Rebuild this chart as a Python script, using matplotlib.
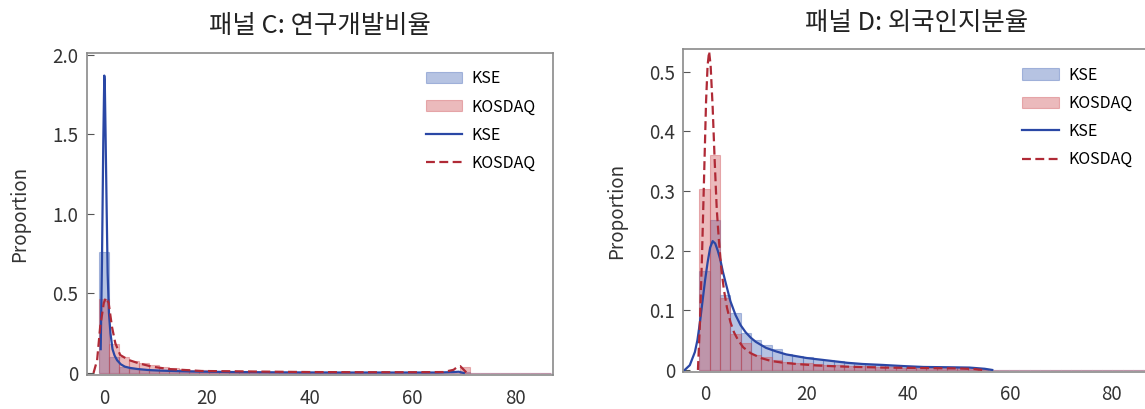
import matplotlib
matplotlib.use('Agg')
import matplotlib.pyplot as plt
import numpy as np

plt.rcParams['font.family'] = ['Noto Sans CJK KR', 'DejaVu Sans']
plt.rcParams['axes.unicode_minus'] = False

# ---- 패널 C: 연구개발비율 ----
c_bin_start, c_bin_width = -1.1, 1.955
c_kse_bars = [0.763, 0.10, 0.04, 0.025, 0.018, 0.014, 0.012, 0.010, 0.008, 0.007,
              0.006, 0.005, 0.005, 0.004, 0.004, 0.003, 0.003, 0.003, 0.002, 0.002,
              0.002, 0.002, 0.002, 0.002, 0.001, 0.001, 0.001, 0.001, 0.001, 0.001,
              0.001, 0.001, 0.001, 0.001, 0.001, 0.001, 0.006, 0, 0, 0,
              0, 0, 0, 0, 0]
c_kosdaq_bars = [0.463, 0.182, 0.103, 0.077, 0.061, 0.048, 0.040, 0.033, 0.027, 0.022,
                 0.018, 0.015, 0.013, 0.011, 0.010, 0.009, 0.008, 0.007, 0.006, 0.006,
                 0.005, 0.005, 0.005, 0.004, 0.004, 0.004, 0.004, 0.003, 0.003, 0.003,
                 0.003, 0.003, 0.003, 0.003, 0.003, 0.003, 0.040, 0, 0, 0,
                 0, 0, 0, 0, 0]
c_kse_x = [-0.7, -0.45, -0.2, 0.0, 0.1, 0.25, 0.45, 0.65, 0.9, 1.2, 1.6, 2.0, 2.5, 3.2,
           4.0, 5.0, 6.5, 8.5, 11, 14, 18, 25, 35, 45, 55, 65, 68, 69, 70]
c_kse_y = [0.15, 0.7, 1.45, 1.87, 1.82, 1.5, 1.05, 0.63, 0.38, 0.25, 0.15, 0.11, 0.08, 0.055,
           0.04, 0.032, 0.025, 0.019, 0.015, 0.012, 0.009, 0.006, 0.004, 0.003, 0.003, 0.003,
           0.006, 0.008, 0.0]
c_kosdaq_x = [-2.1, -1.4, -0.8, -0.1, 0.33, 0.85, 1.5, 2.15, 3.1, 4.75, 6.7, 9.3, 12.5,
              19, 25, 30, 40, 50, 60, 66, 68, 68.8, 69.3, 70, 70.6]
c_kosdaq_y = [0.0, 0.08, 0.29, 0.44, 0.474, 0.44, 0.29, 0.187, 0.113, 0.082, 0.061, 0.04,
              0.025, 0.0125, 0.011, 0.009, 0.006, 0.005, 0.005, 0.006, 0.02, 0.04, 0.043,
              0.02, 0.0]

# ---- 패널 D: 외국인지분율 ----
d_bin_start, d_bin_width = -1.1, 2.03
d_kse_bars = [0.166, 0.251, 0.125, 0.096, 0.062, 0.050, 0.042, 0.035, 0.027, 0.024,
              0.022, 0.018, 0.016, 0.015, 0.012, 0.0095, 0.008, 0.008, 0.007, 0.006,
              0.0055, 0.005, 0.005, 0.005, 0.0045, 0.004, 0.004, 0.002, 0, 0,
              0, 0, 0, 0, 0, 0, 0, 0, 0, 0,
              0, 0, 0, 0]
d_kosdaq_bars = [0.304, 0.360, 0.120, 0.061, 0.045, 0.025, 0.021, 0.017, 0.014, 0.012,
                 0.011, 0.010, 0.009, 0.008, 0.007, 0.006, 0.006, 0.005, 0.005, 0.004,
                 0.004, 0.004, 0.003, 0.003, 0.003, 0.003, 0.002, 0.001, 0, 0,
                 0, 0, 0, 0, 0, 0, 0, 0, 0, 0,
                 0, 0, 0, 0]
d_kse_x = [-4.0, -3.0, -2.0, -1.5, -1.0, -0.5, 0.0, 0.5, 1.0, 1.5, 2.0, 2.5, 3.0, 3.5, 4.0,
           5.0, 6.0, 7.0, 8.0, 9.0, 10, 12, 14, 16, 18, 20, 22, 25, 28, 31, 35, 39, 43, 48,
           52, 55, 56.5]
d_kse_y = [0.0, 0.008, 0.03, 0.05, 0.08, 0.115, 0.15, 0.18, 0.205, 0.216, 0.212, 0.2, 0.185,
           0.165, 0.148, 0.115, 0.092, 0.075, 0.063, 0.054, 0.047, 0.037, 0.031, 0.026, 0.023,
           0.02, 0.018, 0.015, 0.012, 0.010, 0.0084, 0.0065, 0.005, 0.0045, 0.004, 0.002, 0.0]
d_kosdaq_x = [-1.4, -1.0, -0.6, -0.2, 0.2, 0.5, 0.8, 1.1, 1.5, 1.9, 2.3, 2.7, 3.2, 3.7, 4.3,
              5.0, 5.7, 6.5, 7.5, 9, 11, 13, 15.5, 18, 22, 26, 30, 35, 40, 45, 50, 53, 54.5]
d_kosdaq_y = [0.0, 0.08, 0.19, 0.32, 0.45, 0.51, 0.534, 0.51, 0.44, 0.35, 0.27, 0.22, 0.17,
              0.135, 0.105, 0.08, 0.063, 0.05, 0.038, 0.028, 0.02, 0.015, 0.012, 0.01, 0.0075,
              0.006, 0.005, 0.004, 0.0035, 0.003, 0.0025, 0.0015, 0.0]

x_ticks = [0, 20, 40, 60, 80]
c_yticks = [0, 0.5, 1.0, 1.5, 2.0]
d_yticks = [0, 0.1, 0.2, 0.3, 0.4, 0.5]

KSE_FILL, KSE_LINE = '#3f62b4', '#2a47a5'
KOS_FILL, KOS_LINE = '#cc4a4f', '#b02a36'


def fmt(v, pos):
    return '0' if v == 0 else '%.1f' % v


def panel(ax, title, start, width, kse_bars, kos_bars, kse_x, kse_y, kos_x, kos_y,
          xlim, ylim, yticks):
    left = start + width * np.arange(len(kse_bars))
    b1 = ax.bar(left, kse_bars, width=width, align='edge', color=KSE_FILL, alpha=0.38,
                edgecolor=KSE_FILL, linewidth=0.8, label='KSE')
    b2 = ax.bar(left, kos_bars, width=width, align='edge', color=KOS_FILL, alpha=0.38,
                edgecolor=KOS_FILL, linewidth=0.8, label='KOSDAQ')
    l1, = ax.plot(kse_x, kse_y, color=KSE_LINE, lw=1.6, label='KSE')
    l2, = ax.plot(kos_x, kos_y, color=KOS_LINE, lw=1.6, ls=(0, (4, 2)), label='KOSDAQ')
    ax.set_xlim(*xlim)
    ax.set_ylim(*ylim)
    ax.set_xticks(x_ticks)
    ax.set_yticks(yticks)
    ax.yaxis.set_major_formatter(plt.FuncFormatter(fmt))
    ax.tick_params(axis='x', length=0, labelsize=13.5, colors='#333333', pad=9)
    ax.tick_params(axis='y', direction='in', length=5, width=0.8, color='#555555',
                   labelsize=13.5, labelcolor='#333333', pad=6)
    for s in ax.spines.values():
        s.set_color('#8a8a8a')
        s.set_linewidth(1.2)
    ax.set_ylabel('Proportion', fontsize=13.5, color='#333333', labelpad=16)
    ax.set_title(title, fontsize=18.3, color='#222222', pad=14)
    ax.legend([b1, b2, l1, l2], ['KSE', 'KOSDAQ', 'KSE', 'KOSDAQ'], loc='upper right',
              frameon=False, fontsize=11.5, handlelength=2.3, handletextpad=0.6,
              labelspacing=0.7, bbox_to_anchor=(0.995, 0.99))


fig = plt.figure(figsize=(11.45, 4.09), dpi=100)
ax1 = fig.add_axes([0.0757, 0.0831, 0.4070, 0.7881])
ax2 = fig.add_axes([0.5968, 0.0905, 0.4070, 0.7897])

panel(ax1, '패널 C: 연구개발비율', c_bin_start, c_bin_width, c_kse_bars, c_kosdaq_bars,
      c_kse_x, c_kse_y, c_kosdaq_x, c_kosdaq_y, (-3.43, 87.3), (-0.0126, 2.014), c_yticks)
panel(ax2, '패널 D: 외국인지분율', d_bin_start, d_bin_width, d_kse_bars, d_kosdaq_bars,
      d_kse_x, d_kse_y, d_kosdaq_x, d_kosdaq_y, (-4.27, 87.4), (-0.0034, 0.538), d_yticks)

fig.savefig('out.png', dpi=100)
